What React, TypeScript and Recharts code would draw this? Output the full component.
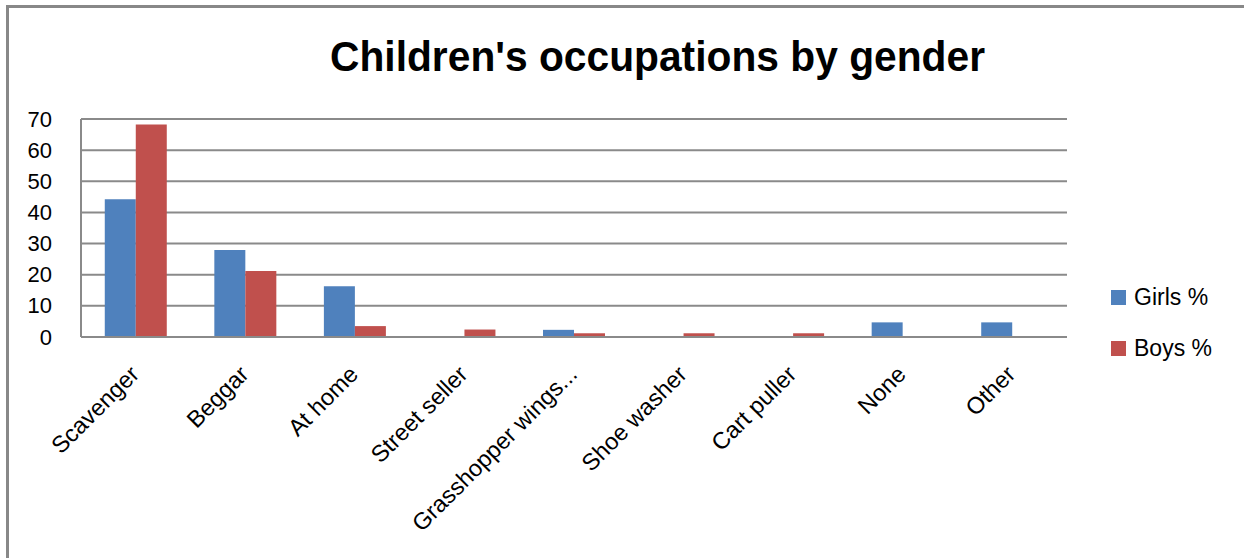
import { BarChart, Bar, XAxis, YAxis, CartesianGrid, Legend } from "recharts"

const categories = [
  "Scavenger",
  "Beggar",
  "At home",
  "Street seller",
  "Grasshopper wings...",
  "Shoe washer",
  "Cart puller",
  "None",
  "Other",
]
const girls = [44.2, 27.9, 16.3, 0, 2.3, 0, 0, 4.7, 4.7]
const boys = [68.2, 21.2, 3.5, 2.4, 1.2, 1.2, 1.2, 0, 0]
const yTicks = [0, 10, 20, 30, 40, 50, 60, 70]
const seriesOrder = ["girls", "boys"]

const GIRLS = "#4F81BD"
const BOYS = "#C0504D"
const GRID = "#8a8a8a"
const FONT = "'Liberation Sans', Arial, sans-serif"

const data = categories.map((name, i) => ({ name, girls: girls[i], boys: boys[i] }))

function XTick({ x, y, payload }: any) {
  const px = x - 1
  const py = y + 31
  return (
    <text
      x={px}
      y={py}
      transform={`rotate(-45, ${px}, ${py})`}
      textAnchor="end"
      dominantBaseline="central"
      fontFamily={FONT}
      fontSize={23.5}
      fill="#000"
    >
      {payload.value}
    </text>
  )
}

function YTick({ x, y, payload }: any) {
  return (
    <text
      x={x - 29}
      y={y}
      textAnchor="end"
      dominantBaseline="central"
      fontFamily={FONT}
      fontSize={22}
      fill="#000"
    >
      {payload.value}
    </text>
  )
}

function LegendBox({ payload }: any) {
  const items = [...payload].sort(
    (a: any, b: any) => seriesOrder.indexOf(a.dataKey) - seriesOrder.indexOf(b.dataKey)
  )
  return (
    <div style={{ fontFamily: FONT, fontSize: 23, color: "#000" }}>
      {items.map((p: any) => (
        <div key={p.value} style={{ display: "flex", alignItems: "center", height: 51 }}>
          <span style={{ display: "inline-block", flexShrink: 0, width: 15, height: 15, background: p.color, marginRight: 8 }} />
          <span>{p.value}</span>
        </div>
      ))}
    </div>
  )
}

export default function App() {
  return (
    <div style={{ position: "relative", width: 1244, height: 558, overflow: "hidden", background: "#fff" }}>
      <style>{`body{margin:0}`}</style>
      <div
        style={{
          position: "absolute",
          left: 6,
          top: 5,
          width: 1250,
          height: 560,
          boxSizing: "border-box",
          borderLeft: "3px solid #888",
          borderTop: "3px solid #888",
          zIndex: 2,
          pointerEvents: "none",
        }}
      />
      <BarChart
        width={1244}
        height={558}
        data={data}
        margin={{ top: 119, right: 177, left: 0, bottom: 0 }}
        barCategoryGap="21.7%"
        barGap={0}
      >
        <CartesianGrid vertical={false} stroke={GRID} strokeWidth={2} />
        <XAxis
          dataKey="name"
          height={221}
          interval={0}
          tickLine={false}
          tickSize={0}
          axisLine={{ stroke: GRID, strokeWidth: 2 }}
          tick={<XTick />}
        />
        <YAxis
          width={81}
          domain={[0, 70]}
          ticks={yTicks}
          interval={0}
          tickLine={false}
          tickSize={0}
          tickMargin={0}
          axisLine={{ stroke: GRID, strokeWidth: 2 }}
          tick={<YTick />}
        />
        <Legend
          content={<LegendBox />}
          wrapperStyle={{ position: "absolute", left: 1111, top: 272, width: 130, height: 0, overflow: "visible", whiteSpace: "nowrap" }}
        />
        <Bar dataKey="girls" name="Girls %" fill={GIRLS} isAnimationActive={false} />
        <Bar dataKey="boys" name="Boys %" fill={BOYS} isAnimationActive={false} />
      </BarChart>
      <svg width={1244} height={558} style={{ position: "absolute", left: 0, top: 0, pointerEvents: "none", zIndex: 1 }}>
        <text
          x={330}
          y={71}
          textLength={655}
          lengthAdjust="spacingAndGlyphs"
          fontFamily={FONT}
          fontWeight="bold"
          fontSize={43}
          fill="#000"
        >
          Children's occupations by gender
        </text>
      </svg>
    </div>
  )
}
